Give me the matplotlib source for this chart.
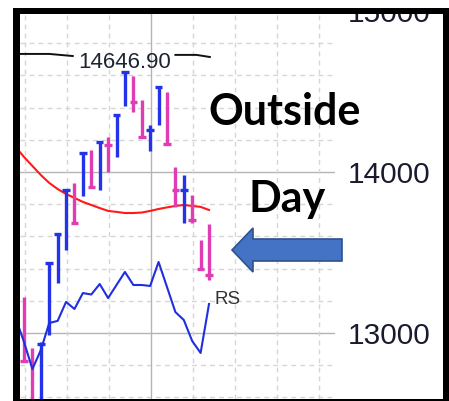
import matplotlib
matplotlib.use("Agg")
import matplotlib.pyplot as plt
from matplotlib.patches import Polygon, Rectangle
import numpy as np

# ---- data ----
bar_idx = list(range(0, 24))
bar_high = [13250, 13224, 12907, 12944, 13435, 13615, 13888, 13932, 14118, 14137, 14186, 14217,
            14354, 14621, 14596, 14447, 14292, 14528, 14497, 14031, 13981, 13857, 13578, 13677]
bar_low = [13050, 12826, 12540, 12580, 12988, 13311, 13516, 13683, 13851, 13907, 13888, 14000,
           14093, 14410, 14373, 14217, 14130, 14292, 14174, 13783, 13683, 13683, 13398, 13329]
bar_close = [13124, 12826, 12560, 12932, 13435, 13615, 13888, 13683, 14118, 13907, 14186, 14168,
             14354, 14621, 14435, 14217, 14261, 14528, 14174, 13888, 13888, 13702, 13398, 13360]
bar_up = [False, False, False, True, True, True, True, False, True, False, True, False,
          True, True, False, False, True, True, False, False, True, False, False, False]

ma_vals = [14155, 14093, 14037, 13981, 13932, 13894, 13863, 13839, 13814, 13795, 13776, 13758,
           13752, 13745, 13745, 13748, 13758, 13770, 13780, 13789, 13795, 13789, 13783, 13764]
rs_vals = [13093, 12944, 12776, 12894, 13062, 13075, 13193, 13149, 13248, 13239, 13304, 13217,
           13298, 13379, 13298, 13298, 13292, 13441, 13286, 13130, 13081, 12950, 12876, 13180]

high_label = "14646.90"
high_value = 14646.90
high_line_left_x = [-0.5, 4.0, 6.8]
high_line_left_y = [14733, 14733, 14720]
high_line_right_x = [19.0, 21.5, 23.1]
high_line_right_y = [14727, 14727, 14714]

ytick_major = [13000, 14000]
ytick_extra = [15000]
ytick_labels = ["13000", "14000"]
week_lines = [1.1, 6.1, 11.1, 16.1, 21.1, 26.1, 31.1, 36.1]
month_line = 16.1

UP = "#2233e8"
DOWN = "#e03cb4"
W, H = 449, 401

fig = plt.figure(figsize=(W / 100, H / 100), dpi=100)
fig.patch.set_facecolor("white")
ax = fig.add_axes([20 / W, 2 / H, 315 / W, 385 / H])
ax.set_xlim(0.523, 37.98)
ax.set_ylim(12590, 14981)
for s in ax.spines.values():
    s.set_visible(False)

# grid
ax.set_yticks(ytick_major)
ax.set_yticklabels(ytick_labels)
ax.set_yticks(np.arange(12600, 15000, 200), minor=True)
ax.set_xticks([])
for v in np.arange(12600, 15000, 200):
    if v % 1000 == 0:
        ax.axhline(v, color="#b4b4b4", lw=1.0, zorder=0)
    else:
        ax.axhline(v, color="#d6d6d6", lw=1.0, ls=(0, (3.5, 3)), zorder=0)
for xv in week_lines:
    if xv == month_line:
        ax.axvline(xv, color="#b4b4b4", lw=1.0, zorder=0)
    else:
        ax.axvline(xv, color="#d6d6d6", lw=1.0, ls=(0, (3.5, 3)), zorder=0)

ax.yaxis.tick_right()
ax.tick_params(axis="y", which="both", length=0, pad=9.5, labelsize=21.5,
               labelcolor="#1a1a2e")
for t in ax.get_yticklabels():
    t.set_fontfamily("Liberation Sans")
for v in ytick_extra:
    ax.annotate(str(v), xy=(1, v), xycoords=("axes fraction", "data"), xytext=(9.5, 0),
                textcoords="offset points", va="center_baseline", ha="left",
                fontsize=21.5, color="#1a1a2e", family="Liberation Sans",
                annotation_clip=False)

# MA line
ax.plot(bar_idx, ma_vals, color="#ff1a1a", lw=1.5, zorder=2)

# bars
for i, hi, lo, cl, up in zip(bar_idx, bar_high, bar_low, bar_close, bar_up):
    c = UP if up else DOWN
    ax.vlines(i, lo, hi, color=c, lw=2.4, zorder=3)
    ax.hlines(cl, i - 0.45, i + 0.45, color=c, lw=2.4, zorder=3)

# RS line
ax.plot(bar_idx, rs_vals, color="#1f2fe0", lw=1.5, zorder=3)
ax.text(23.6, 13211, "RS", va="center", ha="left", fontsize=13.5, color="#333333",
        family="Liberation Sans")

# high annotation
ax.plot(high_line_left_x, high_line_left_y, color="#111111", lw=1.4, clip_on=True)
ax.plot(high_line_right_x, high_line_right_y, color="#111111", lw=1.4)
ax.text(13.0, high_value, high_label, ha="center", va="baseline", fontsize=16,
        color="#1e2433", family="Liberation Sans")

# overlay: border, arrow, words
ov = fig.add_axes([0, 0, 1, 1], zorder=5)
ov.set_xlim(0, W)
ov.set_ylim(H, 0)
ov.axis("off")
ov.patch.set_alpha(0)
# border
ov.add_patch(Rectangle((13, 8), 7, 393, color="black", lw=0))
ov.add_patch(Rectangle((13, 8), 436, 6, color="black", lw=0))
ov.add_patch(Rectangle((443, 8), 6, 393, color="black", lw=0))
ov.add_patch(Rectangle((13, 399), 436, 2, color="black", lw=0))
ov.add_patch(Rectangle((0, 0), 13, 401, color="white", lw=0))
ov.add_patch(Rectangle((0, 0), 449, 8, color="white", lw=0))

arrow = [(232, 250), (253, 228), (253, 239), (342, 239), (342, 261), (253, 261), (253, 272)]
ov.add_patch(Polygon(arrow, closed=True, facecolor="#4472C4", edgecolor="#2F528F", lw=1.2))

ov.text(208, 125, "Outside", ha="left", va="baseline", fontsize=31, fontweight="bold",
        family="Lato", color="black")
ov.text(248, 212, "Day", ha="left", va="baseline", fontsize=31, fontweight="bold",
        family="Lato", color="black")

fig.savefig("out.png", dpi=100)
